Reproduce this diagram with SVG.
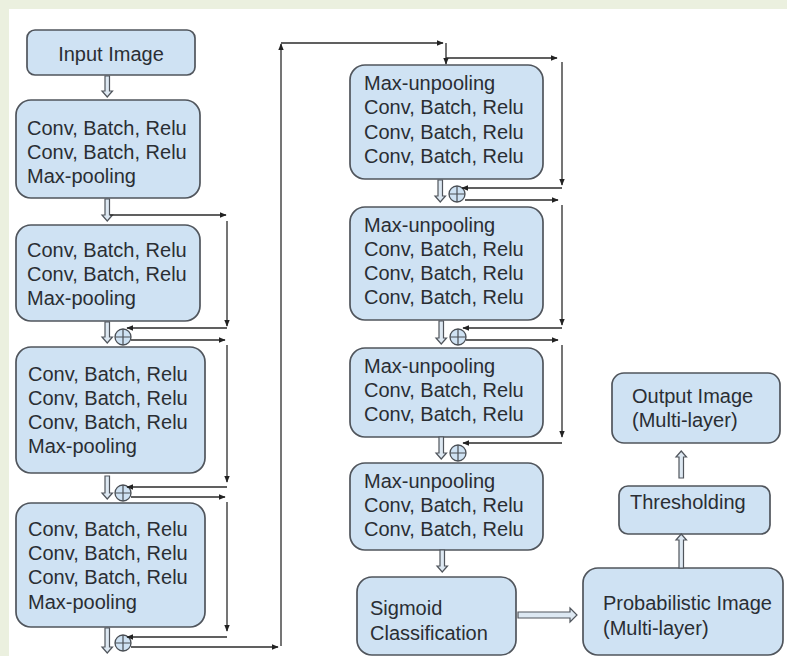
<svg xmlns="http://www.w3.org/2000/svg" width="787" height="656" viewBox="0 0 787 656">
  <defs>
    <marker id="tip" viewBox="0 0 10 10" refX="9" refY="5" markerWidth="7" markerHeight="7" markerUnits="userSpaceOnUse" orient="auto">
      <path d="M0,1 L10,5 L0,9 Z" fill="#222"/>
    </marker>
    <style>
      .box { fill: #cfe2f3; stroke: #50555c; stroke-width: 1.7; }
      .lbl { font-family: "Liberation Sans", Arial, sans-serif; font-size: 20px; fill: #2a2e33; }
      .wire { fill: none; stroke: #2b2b2b; stroke-width: 1.3; marker-end: url(#tip); }
      .hollow { fill: #dde8f2; stroke: #50555c; stroke-width: 1.2; }
      .sum circle { fill: #cfe2f3; stroke: #4a4f55; stroke-width: 1.3; }
      .sum path { stroke: #4a4f55; stroke-width: 1.2; fill: none; }
    </style>
  </defs>

  <!-- page -->
  <rect x="0" y="0" width="787" height="656" fill="#ebf0df"/>
  <rect x="9" y="9" width="778" height="647" fill="#ffffff"/>

  <!-- encoder -->
  <g id="input-image">
    <rect class="box" x="27" y="30" width="168" height="45" rx="8"/>
    <text class="lbl" x="111" y="61" text-anchor="middle">Input Image</text>
  </g>
  <g id="enc1">
    <rect class="box" x="16" y="100" width="184" height="98" rx="15"/>
    <text class="lbl" x="27" y="135">Conv, Batch, Relu</text>
    <text class="lbl" x="27" y="159">Conv, Batch, Relu</text>
    <text class="lbl" x="27" y="183">Max-pooling</text>
  </g>
  <g id="enc2">
    <rect class="box" x="16" y="225" width="184" height="96" rx="15"/>
    <text class="lbl" x="27" y="257">Conv, Batch, Relu</text>
    <text class="lbl" x="27" y="281">Conv, Batch, Relu</text>
    <text class="lbl" x="27" y="305">Max-pooling</text>
  </g>
  <g id="enc3">
    <rect class="box" x="16" y="347" width="189" height="126" rx="15"/>
    <text class="lbl" x="28" y="381">Conv, Batch, Relu</text>
    <text class="lbl" x="28" y="405">Conv, Batch, Relu</text>
    <text class="lbl" x="28" y="429">Conv, Batch, Relu</text>
    <text class="lbl" x="28" y="453">Max-pooling</text>
  </g>
  <g id="enc4">
    <rect class="box" x="16" y="503" width="189" height="124" rx="15"/>
    <text class="lbl" x="28" y="536">Conv, Batch, Relu</text>
    <text class="lbl" x="28" y="560">Conv, Batch, Relu</text>
    <text class="lbl" x="28" y="584">Conv, Batch, Relu</text>
    <text class="lbl" x="28" y="609">Max-pooling</text>
  </g>

  <!-- decoder -->
  <g id="dec1">
    <rect class="box" x="350" y="65" width="193" height="114" rx="15"/>
    <text class="lbl" x="364" y="90">Max-unpooling</text>
    <text class="lbl" x="364" y="114">Conv, Batch, Relu</text>
    <text class="lbl" x="364" y="139">Conv, Batch, Relu</text>
    <text class="lbl" x="364" y="163">Conv, Batch, Relu</text>
  </g>
  <g id="dec2">
    <rect class="box" x="350" y="207" width="193" height="113" rx="15"/>
    <text class="lbl" x="364" y="232">Max-unpooling</text>
    <text class="lbl" x="364" y="256">Conv, Batch, Relu</text>
    <text class="lbl" x="364" y="280">Conv, Batch, Relu</text>
    <text class="lbl" x="364" y="304">Conv, Batch, Relu</text>
  </g>
  <g id="dec3">
    <rect class="box" x="350" y="348" width="193" height="89" rx="15"/>
    <text class="lbl" x="364" y="373">Max-unpooling</text>
    <text class="lbl" x="364" y="397">Conv, Batch, Relu</text>
    <text class="lbl" x="364" y="421">Conv, Batch, Relu</text>
  </g>
  <g id="dec4">
    <rect class="box" x="350" y="463" width="193" height="87" rx="15"/>
    <text class="lbl" x="364" y="488">Max-unpooling</text>
    <text class="lbl" x="364" y="512">Conv, Batch, Relu</text>
    <text class="lbl" x="364" y="536">Conv, Batch, Relu</text>
  </g>

  <!-- output stages -->
  <g id="sigmoid">
    <rect class="box" x="357" y="577" width="159" height="78" rx="15"/>
    <text class="lbl" x="370" y="615">Sigmoid</text>
    <text class="lbl" x="370" y="640">Classification</text>
  </g>
  <g id="probabilistic">
    <rect class="box" x="583" y="568" width="200" height="87" rx="15"/>
    <text class="lbl" x="603" y="610">Probabilistic Image</text>
    <text class="lbl" x="603" y="635">(Multi-layer)</text>
  </g>
  <g id="thresholding">
    <rect class="box" x="619" y="486" width="151" height="48" rx="9"/>
    <text class="lbl" x="630" y="509">Thresholding</text>
  </g>
  <g id="output-image">
    <rect class="box" x="612" y="373" width="168" height="70" rx="12"/>
    <text class="lbl" x="632" y="403">Output Image</text>
    <text class="lbl" x="632" y="427">(Multi-layer)</text>
  </g>

  <!-- summation nodes -->
  <g id="sum1" class="sum"><circle cx="123" cy="337" r="8"/><path d="M115,337 H131 M123,329 V345"/></g>
  <g id="sum2" class="sum"><circle cx="123" cy="493" r="8"/><path d="M115,493 H131 M123,485 V501"/></g>
  <g id="sum3" class="sum"><circle cx="123" cy="643" r="8"/><path d="M115,643 H131 M123,635 V651"/></g>
  <g id="sum4" class="sum"><circle cx="457" cy="194" r="8"/><path d="M449,194 H465 M457,186 V202"/></g>
  <g id="sum5" class="sum"><circle cx="458" cy="337" r="8"/><path d="M450,337 H466 M458,329 V345"/></g>
  <g id="sum6" class="sum"><circle cx="458" cy="453" r="8"/><path d="M450,453 H466 M458,445 V461"/></g>

  <g id="connectors">
    <!-- block arrows, downward -->
    <path class="hollow" d="M105,76 H109.5 V91 H112.5 L107.25,97 L102,91 H105 Z"/>
    <path class="hollow" d="M105,199 H109.5 V215 H112.5 L107.25,221 L102,215 H105 Z"/>
    <path class="hollow" d="M105,322 H109.5 V337 H112.5 L107.25,343 L102,337 H105 Z"/>
    <path class="hollow" d="M105,476 H109.5 V493 H112.5 L107.25,499 L102,493 H105 Z"/>
    <path class="hollow" d="M105,628 H109.5 V647 H112.5 L107.25,653 L102,647 H105 Z"/>
    <path class="hollow" d="M438,180 H442.5 V196 H445.5 L440.25,202 L435,196 H438 Z"/>
    <path class="hollow" d="M439,321 H443.5 V338 H446.5 L441.25,344 L436,338 H439 Z"/>
    <path class="hollow" d="M439,437 H443.5 V453 H446.5 L441.25,459 L436,453 H439 Z"/>
    <path class="hollow" d="M440,550 H444.5 V566 H447.5 L442.25,572 L437,566 H440 Z"/>
    <!-- block arrow, rightward -->
    <path class="hollow" d="M518,612 H570 V608 L577,615 L570,622 V618 H518 Z"/>
    <!-- block arrows, upward -->
    <path class="hollow" d="M679,568 V540 H676 L681.25,534 L686.5,540 H683.5 V568 Z"/>
    <path class="hollow" d="M679,478 V457 H676 L681.25,451 L686.5,457 H683.5 V478 Z"/>

    <!-- encoder skip paths -->
    <path class="wire" d="M110,215 H226"/>
    <path class="wire" d="M227,221 V326"/>
    <path class="wire" d="M227,328 H127"/>
    <path class="wire" d="M131,340 H225"/>
    <path class="wire" d="M227,345 V482"/>
    <path class="wire" d="M227,487 H127"/>
    <path class="wire" d="M131,497 H225"/>
    <path class="wire" d="M227,502 V631"/>
    <path class="wire" d="M227,637 H127"/>

    <!-- bridge to decoder -->
    <path class="wire" d="M131,647 H278"/>
    <path class="wire" d="M281,646 V44"/>
    <path class="wire" d="M281,43 H443"/>
    <path class="wire" d="M446,43 V64"/>

    <!-- decoder skip paths -->
    <path class="wire" d="M446,58 H557"/>
    <path class="wire" d="M562,62 V185"/>
    <path class="wire" d="M562,188 H462"/>
    <path class="wire" d="M465,200 H558"/>
    <path class="wire" d="M562,205 V325"/>
    <path class="wire" d="M562,328 H463"/>
    <path class="wire" d="M466,340 H558"/>
    <path class="wire" d="M562,345 V437"/>
    <path class="wire" d="M562,443 H463"/>
  </g>
</svg>
